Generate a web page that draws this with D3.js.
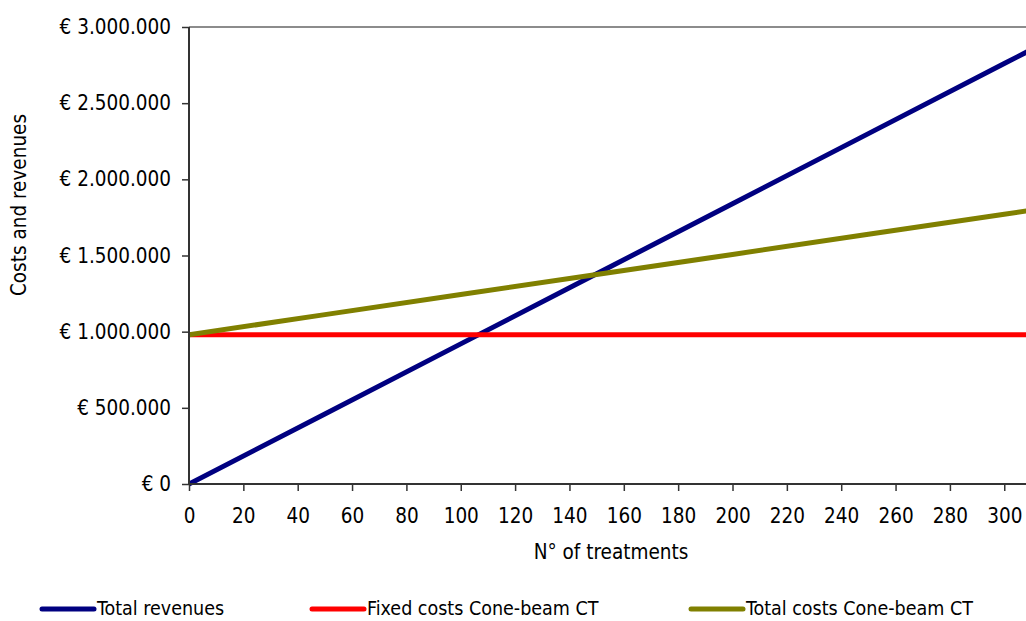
<!DOCTYPE html>
<html>
<head>
<meta charset="utf-8">
<script src="https://cdn.jsdelivr.net/npm/d3@7"></script>
<style>
  html, body { margin: 0; padding: 0; background: #fff; }
  svg { display: block; }
  text { font-family: "DejaVu Sans Condensed", "DejaVu Sans", sans-serif; font-size: 20.5px; fill: #000; }
  .legend text { font-size: 19.5px; }
</style>
</head>
<body>
<svg id="chart" width="1026" height="621"></svg>
<script>
// Number of treatments at which each series is sampled
const treatments = [0, 50, 100, 150, 200, 250, 300, 310];
// Euro amounts per series
const totalRevenues = [0, 460000, 920000, 1380000, 1840000, 2300000, 2760000, 2852000];
const fixedCosts = [980000, 980000, 980000, 980000, 980000, 980000, 980000, 980000];
const totalCosts = [980000, 1111800, 1243600, 1375400, 1507200, 1639000, 1770800, 1797200];

const seriesNames = ["Total revenues", "Fixed costs Cone-beam CT", "Total costs Cone-beam CT"];
const seriesColors = ["#000080", "#FF0000", "#808000"];
const xTicks = [0, 20, 40, 60, 80, 100, 120, 140, 160, 180, 200, 220, 240, 260, 280, 300];
const yTicks = [0, 500000, 1000000, 1500000, 2000000, 2500000, 3000000];

const svg = d3.select("#chart");
const plot = { left: 189, right: 1026, top: 27, bottom: 484 };

const x = d3.scaleLinear().domain([0, 308]).range([plot.left, plot.right]);
const y = d3.scaleLinear().domain([0, 3000000]).range([plot.bottom, plot.top]);

const euro = v => "€ " + d3.format(",")(v).replace(/,/g, ".");

// Top border of the plot area
svg.append("line")
  .attr("x1", plot.left).attr("x2", plot.right)
  .attr("y1", y(3000000)).attr("y2", y(3000000))
  .attr("stroke", "#8c8c8c").attr("stroke-width", 2);

// Clip the series to the plot area
svg.append("clipPath").attr("id", "plotClip")
  .append("rect")
  .attr("x", plot.left).attr("y", plot.top - 5)
  .attr("width", plot.right - plot.left).attr("height", plot.bottom - plot.top + 10);

const series = [totalRevenues, fixedCosts, totalCosts];
const line = d3.line().x((d, i) => x(treatments[i])).y(d => y(d));

const gSeries = svg.append("g").attr("clip-path", "url(#plotClip)");
// draw order: revenues, fixed costs, total costs on top
gSeries.selectAll("path")
  .data(series)
  .join("path")
  .attr("d", d => line(d))
  .attr("fill", "none")
  .attr("stroke", (d, i) => seriesColors[i])
  .attr("stroke-width", 5);

// Axes
const yAxis = d3.axisLeft(y).tickValues(yTicks).tickFormat(euro).tickSizeOuter(0).tickSize(7).tickPadding(11);
const gy = svg.append("g").attr("transform", `translate(${plot.left},0)`).call(yAxis);
const xAxis = d3.axisBottom(x).tickValues(xTicks).tickSizeOuter(0).tickSize(7).tickPadding(17);
const gx = svg.append("g").attr("transform", `translate(0,${plot.bottom})`).call(xAxis);

[gy, gx].forEach(g => {
  g.select(".domain").attr("stroke", "#333").attr("stroke-width", 2);
  g.selectAll(".tick line").attr("stroke", "#333").attr("stroke-width", 1.5);
  g.selectAll(".tick text").attr("font-family", null).attr("font-size", null).style("font-size", "20.5px");
});
gy.select(".domain").attr("d", `M0,${plot.top}V${plot.bottom}`);
gx.select(".domain").attr("d", `M${plot.left},0H${plot.right}`);

// Axis titles
svg.append("text")
  .attr("x", 611).attr("y", 559)
  .attr("text-anchor", "middle")
  .text("N° of treatments");

svg.append("text")
  .attr("transform", "translate(26,205) rotate(-90)")
  .attr("text-anchor", "middle")
  .text("Costs and revenues");

// Legend
const legendX = [42, 312, 691];
const legend = svg.append("g").attr("class", "legend");
seriesNames.forEach((name, i) => {
  legend.append("line")
    .attr("x1", legendX[i]).attr("x2", legendX[i] + 52)
    .attr("y1", 609).attr("y2", 609)
    .attr("stroke", seriesColors[i]).attr("stroke-width", 5)
    .attr("stroke-linecap", "round");
  legend.append("text")
    .attr("x", legendX[i] + 55).attr("y", 615)
    .text(name);
});
</script>
</body>
</html>
